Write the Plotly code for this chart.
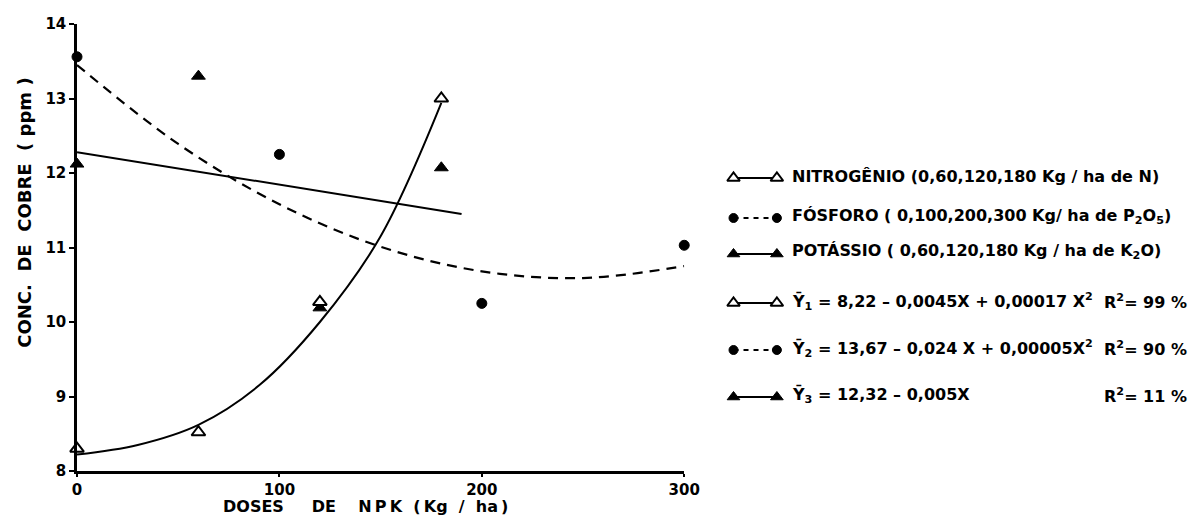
import plotly.graph_objects as go

# ---------------- data ----------------
n_x = [0, 60, 120, 180]
n_y = [8.3, 8.52, 10.27, 13.0]
p_x = [0, 100, 200, 300]
p_y = [13.56, 12.25, 10.25, 11.03]
k_x = [0, 60, 120, 180]
k_y = [12.12, 13.3, 10.19, 12.07]

# fitted curves
fit1_x = [0, 30, 60, 90, 120, 150, 180]
fit1_y = [8.22, 8.35, 8.62, 9.15, 10.0, 11.15, 12.94]
fit2_x = [0, 50, 100, 150, 200, 250, 300]
fit2_y = [13.45, 12.39, 11.58, 11.01, 10.68, 10.59, 10.75]
fit3_x = [0, 190]
fit3_y = [12.28, 11.45]

x_ticks = [0, 100, 200, 300]
x_tick_text = ["0", "100", "200", "300"]
y_ticks = [8, 9, 10, 11, 12, 13, 14]

legend_rows = [
    "NITROGÊNIO (0,60,120,180 Kg / ha de N)",
    "FÓSFORO ( 0,100,200,300 Kg/ ha de P<sub>2</sub>O<sub>5</sub>)",
    "POTÁSSIO ( 0,60,120,180 Kg / ha de K<sub>2</sub>O)",
    "Ȳ<sub>1</sub> = 8,22 – 0,0045X + 0,00017 X<sup>2</sup>",
    "Ȳ<sub>2</sub> = 13,67 – 0,024 X + 0,00005X<sup>2</sup>",
    "Ȳ<sub>3</sub> = 12,32 – 0,005X",
]
r2_rows = ["", "", "", "R<sup>2</sup>= 99 %", "R<sup>2</sup>= 90 %", "R<sup>2</sup>= 11 %"]

# ---------------- layout constants ----------------
W, H = 1202, 517
ML, MR, MT, MB = 77, 2, 24, 46
PW, PH = W - ML - MR, H - MT - MB
X300PX = 693
FONT = "DejaVu Sans, sans-serif"
NB = "\u00a0"
TH = "\u2009"

def px(xp):
    return (xp - ML) / PW

def py(yp):
    return (H - MB - yp) / PH

row_y = [176, 216, 252, 301, 348, 395]
row_style = ["n", "p", "k", "n", "p", "k"]

fig = go.Figure()

open_tri = dict(symbol="triangle-up", size=12, color="white",
                line=dict(color="black", width=2))
fill_tri = dict(symbol="triangle-up", size=12, color="black",
                line=dict(color="black", width=1))
circ = dict(symbol="circle", size=10, color="black",
            line=dict(color="black", width=1))

# fitted curves
fig.add_trace(go.Scatter(x=fit1_x, y=fit1_y, mode="lines", line_shape="spline",
                         line=dict(color="black", width=2), hoverinfo="skip"))
fig.add_trace(go.Scatter(x=fit2_x, y=fit2_y, mode="lines", line_shape="spline",
                         line=dict(color="black", width=2.2, dash="10px,7px"),
                         hoverinfo="skip"))
fig.add_trace(go.Scatter(x=fit3_x, y=fit3_y, mode="lines",
                         line=dict(color="black", width=2), hoverinfo="skip"))

# observed points
fig.add_trace(go.Scatter(x=p_x, y=p_y, mode="markers", marker=circ, cliponaxis=False))
fig.add_trace(go.Scatter(x=k_x, y=k_y, mode="markers", marker=fill_tri, cliponaxis=False))
fig.add_trace(go.Scatter(x=n_x, y=n_y, mode="markers", marker=open_tri, cliponaxis=False))

# legend glyphs on a pixel-coordinate overlay axis
for yr, st in zip(row_y, row_style):
    mk = {"n": open_tri, "p": circ, "k": fill_tri}[st]
    dash = "5px,5px" if st == "p" else "solid"
    fig.add_trace(go.Scatter(x=[743, 787], y=[yr + 2, yr + 2], xaxis="x2", yaxis="y2",
                             mode="lines+markers", cliponaxis=False,
                             line=dict(color="black", width=2, dash=dash),
                             marker=dict(mk, size=11 if st != "p" else 9),
                             hoverinfo="skip"))

for yr, txt, r2 in zip(row_y, legend_rows, r2_rows):
    fig.add_annotation(x=px(800), y=py(yr), xref="paper", yref="paper",
                       text="<b>" + txt + "</b>", showarrow=False,
                       xanchor="left", yanchor="middle",
                       font=dict(family=FONT, size=16, color="black"))
    if r2:
        fig.add_annotation(x=px(1117), y=py(yr), xref="paper", yref="paper",
                           text="<b>" + r2 + "</b>", showarrow=False,
                           xanchor="left", yanchor="middle",
                           font=dict(family=FONT, size=16, color="black"))

# axis titles
xt = ("DOSES" + NB * 5 + "DE" + NB * 4 + "N" + TH + "P" + TH + "K" + NB * 2
      + "(" + TH + "Kg" + NB * 2 + "/" + NB * 2 + "ha" + TH + ")")
fig.add_annotation(x=px(370), y=py(506), xref="paper", yref="paper",
                   text="<b>" + xt + "</b>", showarrow=False,
                   xanchor="center", yanchor="middle",
                   font=dict(family=FONT, size=16, color="black"))
yt = ("CONC." + NB * 2 + "DE" + NB * 2 + "COBRE" + NB * 2 + "(" + NB + "ppm" + NB + ")")
fig.add_annotation(x=px(24), y=py(213), xref="paper", yref="paper", textangle=-90,
                   text="<b>" + yt + "</b>", showarrow=False,
                   xanchor="center", yanchor="middle",
                   font=dict(family=FONT, size=18, color="black"))

fig.update_layout(
    width=W, height=H, margin=dict(l=ML, r=MR, t=MT, b=MB),
    paper_bgcolor="white", plot_bgcolor="rgba(0,0,0,0)", showlegend=False,
    xaxis=dict(domain=[0, (X300PX - ML) / PW], range=[0, 300],
               tickvals=x_ticks, ticktext=["<b>%s</b>" % t for t in x_tick_text],
               ticks="outside", ticklen=3, tickwidth=2, tickcolor="black",
               showline=True, linecolor="black", linewidth=2.5,
               showgrid=False, zeroline=False,
               tickfont=dict(family=FONT, size=15, color="black")),
    yaxis=dict(range=[8, 14], tickvals=y_ticks,
               ticktext=["<b>%d</b>" % t for t in y_ticks],
               ticks="outside", ticklen=5, tickwidth=2, tickcolor="black",
               showline=True, linecolor="black", linewidth=2.5,
               showgrid=False, zeroline=False,
               tickfont=dict(family=FONT, size=15, color="black")),
    xaxis2=dict(domain=[0, 1], range=[ML, W - MR], visible=False, anchor="y2"),
    yaxis2=dict(domain=[0, 1], range=[H - MB, MT], visible=False, anchor="x2"),
)

fig.write_html("out.html")
